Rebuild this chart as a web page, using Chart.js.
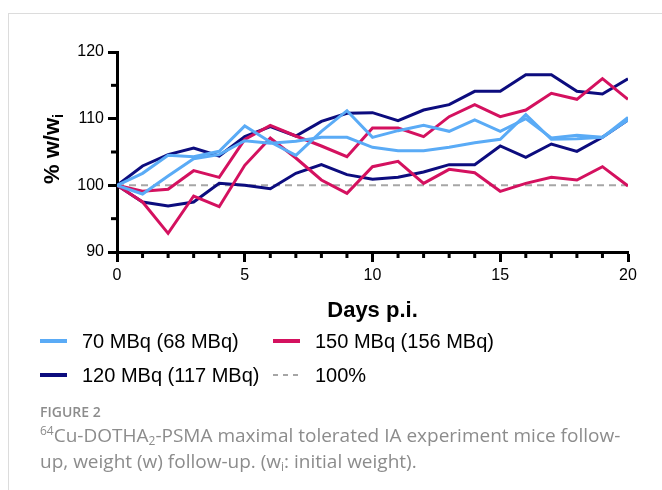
<!DOCTYPE html>
<html><head><meta charset="utf-8">
<script src="https://cdn.jsdelivr.net/npm/chart.js@4/dist/chart.umd.min.js"></script>
<style>
html,body{margin:0;padding:0;background:#fff;}
#wrap{position:relative;width:662px;height:490px;overflow:hidden;background:#fff;}
#frame{position:absolute;left:8px;top:13px;width:700px;height:500px;border-top:1px solid #dcdcdc;border-left:1px solid #dcdcdc;}
#c{position:absolute;left:0;top:0;}
.leg{position:absolute;font-family:"Liberation Sans",Arial,sans-serif;font-size:20px;color:#000;white-space:nowrap;line-height:20px;}
.sw{position:absolute;height:0;}
.cap{position:absolute;left:40px;font-family:"Open Sans",sans-serif;color:#8c8c8c;white-space:nowrap;}
</style></head>
<body><div id="wrap">
<div id="frame"></div>
<canvas id="c" width="662" height="490"></canvas>
<div id="legend"></div>
<div class="cap" style="top:402px;font-size:14px;font-weight:600;">FIGURE 2</div>
<div class="cap" id="cap1" style="top:422px;font-size:19px;line-height:26px;"><sup style="font-size:12px;vertical-align:7px;line-height:0;">64</sup>Cu-DOTHA<sub style="font-size:12px;vertical-align:-3px;line-height:0;">2</sub>-PSMA maximal tolerated IA experiment mice follow-</div>
<div class="cap" id="cap2" style="top:448px;font-size:19px;line-height:26px;">up, weight (w) follow-up. (w<sub style="font-size:12px;vertical-align:-3px;line-height:0;">i</sub>: initial weight).</div>
</div>
<script>
// ---- data ----
const days = [0,1,2,3,4,5,6,7,8,9,10,11,12,13,14,15,16,17,18,19,20];
const xTickLabels = [0,5,10,15,20];
const yTickLabels = [90,100,110,120];
const blueA = [100,101.8,104.5,104.3,105.1,108.9,106.5,104.5,108.1,111.2,107.2,108.2,109.0,108.1,109.8,108.1,110.0,107.1,107.5,107.2,110.2];
const blueB = [100,98.7,101.4,104.0,104.6,106.7,106.3,106.6,107.2,107.2,105.7,105.2,105.2,105.7,106.4,106.9,110.6,106.9,107.0,107.2,109.8];
const navyA = [100,102.9,104.6,105.6,104.4,107.3,108.8,107.4,109.6,110.8,110.9,109.7,111.3,112.1,114.1,114.1,116.6,116.6,114.1,113.7,116.0];
const navyB = [100,97.5,96.9,97.5,100.3,100.0,99.5,101.8,103.1,101.6,100.9,101.2,102.0,103.1,103.1,105.9,104.2,106.2,105.1,107.2,109.8];
const magA = [100,99.1,99.4,102.2,101.2,106.9,109.0,107.4,105.9,104.3,108.6,108.6,107.3,110.3,112.1,110.3,111.3,113.8,112.9,116.0,112.9];
const magB = [100,97.5,92.8,98.4,96.8,103.0,107.1,104.1,100.8,98.8,102.8,103.6,100.3,102.4,101.9,99.1,100.3,101.2,100.8,102.8,99.9];
const refLine = [100,100,100,100,100,100,100,100,100,100,100,100,100,100,100,100,100,100,100,100,100];
const legendLabels = ["70 MBq (68 MBq)","150 MBq (156 MBq)","120 MBq (117 MBq)","100%"];
const xTitle = "Days p.i.";
const yTitleMain = "% w/w";
const yTitleSub = "i";

const C_BLUE = "#5aabf6", C_NAVY = "#0c0c7e", C_MAG = "#d4115f", C_REF = "#a6a6a6";
const FONT = '"Liberation Sans", Arial, sans-serif';

function pts(arr){ return days.map((d,i)=>({x:d,y:arr[i]})); }
function ds(arr,color,extra){ return Object.assign({data:pts(arr),borderColor:color,backgroundColor:color,borderWidth:3,pointRadius:0,tension:0,fill:false}, extra||{}); }

// legend (HTML)
const legPos = [
  {x:40,y:341,color:C_BLUE,dash:false},
  {x:273,y:341,color:C_MAG,dash:false},
  {x:40,y:375,color:C_NAVY,dash:false},
  {x:273,y:375,color:C_REF,dash:true}
];
const legEl = document.getElementById('legend');
legendLabels.forEach((t,i)=>{
  const p = legPos[i];
  const sw = document.createElement('div');
  sw.className='sw';
  sw.style.left=p.x+'px'; sw.style.top=(p.y-2)+'px'; sw.style.width='27px';
  sw.style.borderTop = '4px solid '+p.color;
  if(p.dash){ sw.style.top=(p.y-1)+'px'; sw.style.borderTop='none'; sw.style.height='2px';
    sw.style.background='repeating-linear-gradient(90deg,'+p.color+' 0 5px,transparent 5px 10px)'; }
  legEl.appendChild(sw);
  const tx = document.createElement('div');
  tx.className='leg'; tx.textContent=t;
  tx.style.left=(p.x+42)+'px'; tx.style.top=(p.y-10)+'px';
  legEl.appendChild(tx);
});

const extras = {
  id:'extras',
  afterDraw(chart){
    const ctx = chart.ctx, a = chart.chartArea;
    const xs = chart.scales.x, ys = chart.scales.y;
    ctx.save();
    ctx.strokeStyle='#000'; ctx.lineWidth=3; ctx.lineCap='butt';
    days.forEach(d=>{ if(xTickLabels.indexOf(d)<0){ const px=xs.getPixelForValue(d); ctx.beginPath(); ctx.moveTo(px,a.bottom); ctx.lineTo(px,a.bottom+6); ctx.stroke(); }});
    [95,105,115].forEach(v=>{ const py=ys.getPixelForValue(v); ctx.beginPath(); ctx.moveTo(a.left-6,py); ctx.lineTo(a.left,py); ctx.stroke(); });
    ctx.fillStyle='#000';
    ctx.font='bold 22px '+FONT; ctx.textAlign='center'; ctx.textBaseline='alphabetic';
    ctx.fillText(xTitle,(a.left+a.right)/2,317);
    ctx.translate(59,149); ctx.rotate(-Math.PI/2);
    ctx.font='bold 22px '+FONT; const w1=ctx.measureText(yTitleMain).width;
    ctx.font='bold 14px '+FONT; const w2=ctx.measureText(yTitleSub).width;
    const s=-(w1+w2)/2; ctx.textAlign='left';
    ctx.font='bold 22px '+FONT; ctx.fillText(yTitleMain,s,0);
    ctx.font='bold 14px '+FONT; ctx.fillText(yTitleSub,s+w1,4);
    ctx.restore();
  }
};

new Chart(document.getElementById('c'),{
  type:'line',
  data:{datasets:[
    ds(blueA,C_BLUE), ds(blueB,C_BLUE),
    ds(magA,C_MAG), ds(magB,C_MAG),
    ds(navyA,C_NAVY), ds(navyB,C_NAVY),
    ds(refLine,C_REF,{borderWidth:2,borderDash:[7,5]})
  ]},
  options:{
    responsive:false, animation:false, devicePixelRatio:1,
    layout:{padding:{left:0,top:52,right:34,bottom:0}},
    plugins:{legend:{display:false},tooltip:{enabled:false}},
    scales:{
      x:{type:'linear',min:0,max:20,
        afterFit(s){ s.height=238; },
        ticks:{stepSize:1,autoSkip:false,maxRotation:0,padding:4,color:'#000',font:{family:FONT,size:16},
          callback:(v)=> xTickLabels.indexOf(v)>=0 ? String(v) : ''},
        grid:{drawOnChartArea:false,drawTicks:true,tickLength:10,tickWidth:3,
          tickColor:(c)=> (c.tick && xTickLabels.indexOf(c.tick.value)>=0) ? '#000' : 'rgba(0,0,0,0)'},
        border:{display:true,color:'#000',width:3}
      },
      y:{min:90,max:120,
        afterFit(s){ s.width=117; },
        ticks:{stepSize:5,padding:4,color:'#000',font:{family:FONT,size:16},
          callback:(v)=> yTickLabels.indexOf(v)>=0 ? String(v) : ''},
        grid:{drawOnChartArea:false,drawTicks:true,tickLength:9,tickWidth:3,
          tickColor:(c)=> (c.tick && yTickLabels.indexOf(c.tick.value)>=0) ? '#000' : 'rgba(0,0,0,0)'},
        border:{display:true,color:'#000',width:3}
      }
    }
  },
  plugins:[extras]
});
</script>
</body></html>
